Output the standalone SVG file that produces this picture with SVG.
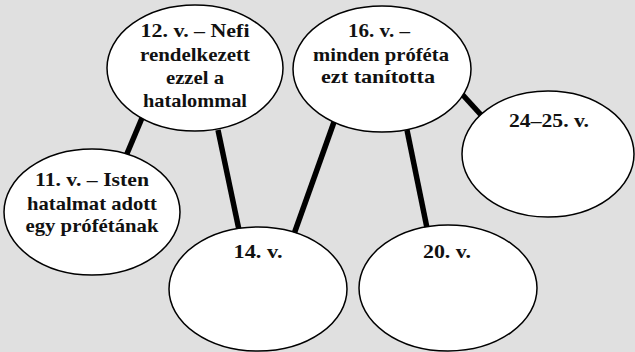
<svg xmlns="http://www.w3.org/2000/svg" width="635" height="352" viewBox="0 0 635 352">
<style>
.n{fill:#fff;stroke:#000;stroke-width:1.5}
.c line{stroke:#000;stroke-width:5.5}
.t{font-family:'Liberation Serif','DejaVu Serif','Times New Roman',serif;font-weight:700;font-size:19px;fill:#111;text-anchor:middle}
</style>
<rect width="635" height="352" fill="#e0e0e0"/>
<g class="c" id="connectors">
<line x1="142" y1="118" x2="126" y2="156"/>
<line x1="218" y1="130" x2="239" y2="230"/>
<line x1="334" y1="122" x2="294" y2="234"/>
<line x1="407" y1="130" x2="427" y2="228"/>
<line x1="461" y1="93" x2="482" y2="116"/>
</g>
<g id="n12" class="t">
<ellipse class="n" cx="195" cy="68" rx="88" ry="63"/>
<text x="195" y="37" textLength="109" lengthAdjust="spacingAndGlyphs">12. v. – Nefi</text>
<text x="195" y="61" textLength="110" lengthAdjust="spacingAndGlyphs">rendelkezett</text>
<text x="195" y="84" textLength="58" lengthAdjust="spacingAndGlyphs">ezzel a</text>
<text x="195" y="107" textLength="104" lengthAdjust="spacingAndGlyphs">hatalommal</text>
</g>
<g id="n16" class="t">
<ellipse class="n" cx="382" cy="69" rx="89" ry="63"/>
<text x="379" y="37" textLength="62" lengthAdjust="spacingAndGlyphs">16. v. –</text>
<text x="381" y="61" textLength="136" lengthAdjust="spacingAndGlyphs">minden próféta</text>
<text x="378" y="83" textLength="114" lengthAdjust="spacingAndGlyphs">ezt tanította</text>
</g>
<g id="n24" class="t">
<ellipse class="n" cx="548" cy="154" rx="86" ry="63"/>
<text x="549" y="127" textLength="80" lengthAdjust="spacingAndGlyphs">24–25. v.</text>
</g>
<g id="n11" class="t">
<ellipse class="n" cx="92" cy="212" rx="88" ry="63"/>
<text x="92" y="186" textLength="114" lengthAdjust="spacingAndGlyphs">11. v. – Isten</text>
<text x="92" y="210" textLength="130" lengthAdjust="spacingAndGlyphs">hatalmat adott</text>
<text x="92" y="232" textLength="133" lengthAdjust="spacingAndGlyphs">egy prófétának</text>
</g>
<g id="n14" class="t">
<ellipse class="n" cx="258" cy="289" rx="89" ry="62"/>
<text x="258" y="258" textLength="49" lengthAdjust="spacingAndGlyphs">14. v.</text>
</g>
<g id="n20" class="t">
<ellipse class="n" cx="448" cy="288" rx="89" ry="63"/>
<text x="447" y="258" textLength="48" lengthAdjust="spacingAndGlyphs">20. v.</text>
</g>
</svg>
